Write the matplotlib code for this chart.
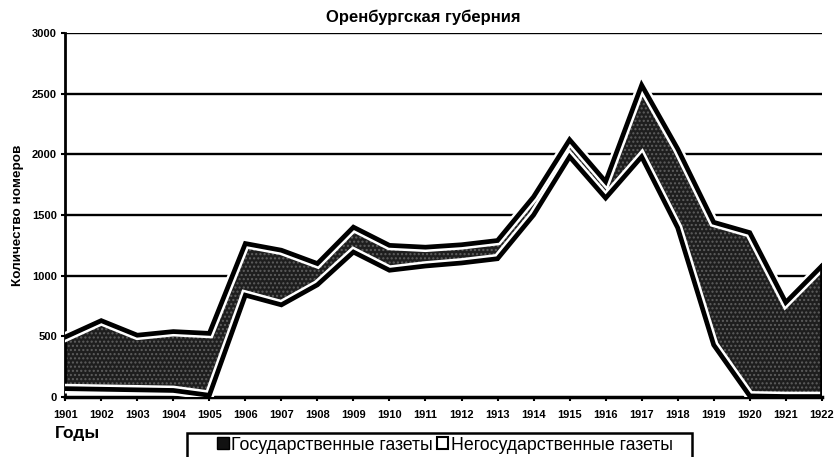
import numpy as np
import matplotlib.pyplot as plt
from matplotlib.patches import Patch, Rectangle

plt.rcParams['font.family'] = ['Liberation Sans', 'DejaVu Sans']

years = list(range(1901, 1923))
# non-state newspapers (bottom layer, white)
nonstate = [70, 65, 60, 55, 15, 840, 760, 925, 1195, 1045, 1080, 1105, 1140,
            1500, 1980, 1640, 1980, 1395, 430, 10, 5, 5]
# total number of issues (top outline)
total = [495, 630, 510, 540, 525, 1265, 1210, 1100, 1400, 1250, 1235, 1255, 1290,
         1650, 2120, 1775, 2570, 2045, 1440, 1355, 780, 1080]
state = [t - n for t, n in zip(total, nonstate)]

title = "Оренбургская губерния"
ylabel = "Количество номеров"
xlabel = "Годы"
legend_labels = ["Государственные газеты", "Негосударственные газеты"]

fig = plt.figure(figsize=(8.36, 4.57), dpi=100)
ax = fig.add_axes([0.078, 0.131, 0.905, 0.797])

x = np.array(years)
low = np.array(nonstate)
top = low + np.array(state)

# grid lines
for v in range(500, 3001, 500):
    ax.axhline(v, color='black', lw=1.7, zorder=1)

ax.fill_between(x, 0, low, facecolor='white', edgecolor='none', zorder=2)
ax.fill_between(x, low, top, facecolor='#1e1e1e', edgecolor='#5e5e5e',
                hatch='....', lw=0, zorder=2)

# white halo + thick black outlines
for y in (low, top):
    ax.plot(x, y, color='white', lw=7, solid_joinstyle='miter', zorder=3)
for y in (low, top):
    ax.plot(x, y, color='black', lw=3.4, solid_joinstyle='miter', zorder=4)
ax.plot([x[-1], x[-1]], [low[-1], top[-1]], color='black', lw=3.4, zorder=4)

ax.set_xlim(1901, 1922)
ax.set_ylim(0, 3000)
ax.set_xticks(years)
ax.set_xticklabels([str(y) for y in years], fontsize=8, fontweight='bold')
ax.set_yticks(range(0, 3001, 500))
ax.set_yticklabels([str(v) for v in range(0, 3001, 500)], fontsize=8, fontweight='bold')
ax.tick_params(axis='x', length=3, width=1.5, pad=6)
ax.tick_params(axis='y', length=3, width=1.5, pad=3)

for s in ('top', 'right'):
    ax.spines[s].set_visible(False)
ax.spines['left'].set_linewidth(2)
ax.spines['bottom'].set_linewidth(2.5)

ax.set_ylabel(ylabel, fontsize=9.7, fontweight='bold', labelpad=6)
fig.text(0.066, 0.052, xlabel, fontsize=12.5, fontweight='bold', ha='left', va='center')
fig.text(0.506, 0.963, title, fontsize=12, fontweight='bold', ha='center', va='center')

# legend frame (runs off the bottom edge like in the scan)
fig.add_artist(Rectangle((187 / 836, -0.05), (692 - 187) / 836, 0.05 + 24 / 457,
                         transform=fig.transFigure, facecolor='white',
                         edgecolor='black', lw=1.8, zorder=5))
handles = [Patch(facecolor='#111111', edgecolor='black'),
           Patch(facecolor='white', edgecolor='black', lw=1.5)]
leg = fig.legend(handles, legend_labels, ncol=2, loc='center left',
                 bbox_to_anchor=(217 / 836, 12 / 457), frameon=False,
                 fontsize=12.8, handlelength=0.65,
                 handleheight=0.65, handletextpad=0.15, columnspacing=0.2,
                 borderpad=0, borderaxespad=0)
leg.set_zorder(6)

fig.savefig('out.png', dpi=100)
